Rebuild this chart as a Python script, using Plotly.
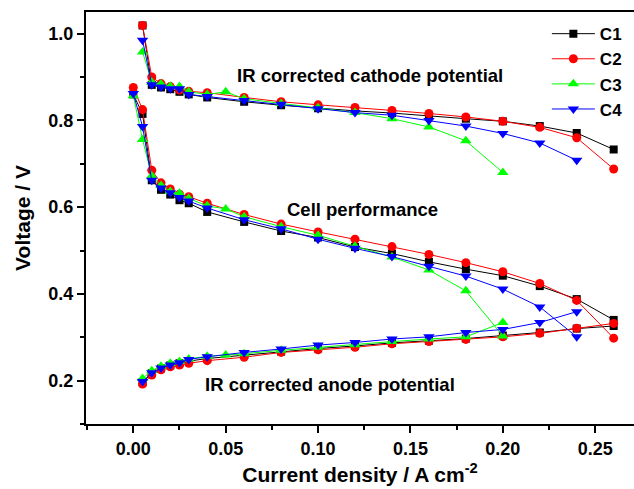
import plotly.graph_objects as go

# ---- data ----
x_cat = [0.005, 0.01, 0.015, 0.02, 0.025, 0.03, 0.04, 0.06, 0.08, 0.10, 0.12, 0.14, 0.16, 0.18, 0.20, 0.22, 0.24, 0.26]
x_cell = [0.0] + x_cat
x_c3_cat = [0.005, 0.01, 0.015, 0.02, 0.025, 0.03, 0.04, 0.05, 0.06, 0.08, 0.10, 0.12, 0.14, 0.16, 0.18, 0.20]
x_c3_cell = [0.0] + x_c3_cat

c1_cathode = [1.019, 0.882, 0.876, 0.872, 0.866, 0.860, 0.853, 0.843, 0.835, 0.828, 0.822, 0.817, 0.810, 0.804, 0.798, 0.787, 0.771, 0.733]
c2_cathode = [1.019, 0.900, 0.885, 0.878, 0.870, 0.867, 0.864, 0.853, 0.843, 0.836, 0.830, 0.823, 0.816, 0.808, 0.798, 0.784, 0.760, 0.688]
c3_cathode = [0.958, 0.888, 0.884, 0.879, 0.878, 0.866, 0.860, 0.866, 0.850, 0.839, 0.829, 0.818, 0.804, 0.785, 0.753, 0.680]
c4_cathode = [0.985, 0.882, 0.877, 0.873, 0.873, 0.860, 0.855, 0.846, 0.837, 0.827, 0.818, 0.812, 0.800, 0.787, 0.770, 0.748, 0.708]

c1_cell = [0.860, 0.815, 0.662, 0.640, 0.629, 0.616, 0.609, 0.589, 0.566, 0.545, 0.530, 0.508, 0.493, 0.474, 0.457, 0.442, 0.418, 0.388, 0.340]
c2_cell = [0.876, 0.825, 0.685, 0.656, 0.642, 0.630, 0.624, 0.609, 0.583, 0.561, 0.543, 0.526, 0.509, 0.491, 0.472, 0.451, 0.424, 0.385, 0.298]
c3_cell = [0.857, 0.756, 0.672, 0.650, 0.636, 0.632, 0.620, 0.603, 0.596, 0.578, 0.555, 0.535, 0.510, 0.485, 0.455, 0.407, 0.303]
c4_cell = [0.862, 0.786, 0.662, 0.644, 0.633, 0.622, 0.614, 0.598, 0.571, 0.550, 0.526, 0.505, 0.486, 0.464, 0.441, 0.411, 0.370, 0.301]

c1_anode = [0.196, 0.217, 0.228, 0.235, 0.240, 0.245, 0.251, 0.259, 0.267, 0.274, 0.280, 0.287, 0.292, 0.297, 0.304, 0.311, 0.320, 0.326]
c2_anode = [0.192, 0.213, 0.225, 0.232, 0.236, 0.240, 0.246, 0.254, 0.265, 0.271, 0.277, 0.285, 0.290, 0.295, 0.301, 0.309, 0.321, 0.332]
c3_anode = [0.205, 0.223, 0.233, 0.240, 0.244, 0.250, 0.256, 0.259, 0.262, 0.270, 0.277, 0.283, 0.290, 0.296, 0.301, 0.334]
c4_anode = [0.198, 0.218, 0.229, 0.236, 0.241, 0.249, 0.255, 0.265, 0.273, 0.282, 0.288, 0.296, 0.301, 0.311, 0.318, 0.334, 0.359]

names = ["C1", "C2", "C3", "C4"]
colors = ["#000000", "#FF0000", "#00FF00", "#0000FF"]
symbols = ["square", "circle", "triangle-up", "triangle-down"]
msizes = [8, 9, 10, 10]

series = [
    (x_cat, x_cell, x_cat, c1_cathode, c1_cell, c1_anode),
    (x_cat, x_cell, x_cat, c2_cathode, c2_cell, c2_anode),
    (x_c3_cat, x_c3_cell, x_c3_cat, c3_cathode, c3_cell, c3_anode),
    (x_cat[:-1], x_cell[:-1], x_cat[:-1], c4_cathode, c4_cell, c4_anode),
]

FONT = "Liberation Sans, Arial, sans-serif"

fig = go.Figure()
for i, (xa, xb, xc, ya, yb, yc) in enumerate(series):
    xs = list(xa[:len(ya)]) + [None] + list(xb[:len(yb)]) + [None] + list(xc[:len(yc)])
    ys = list(ya) + [None] + list(yb) + [None] + list(yc)
    fig.add_trace(go.Scatter(
        x=xs, y=ys, name=names[i], mode="lines+markers",
        line=dict(color=colors[i], width=1),
        marker=dict(symbol=symbols[i], size=msizes[i], color=colors[i], line=dict(width=0)),
        connectgaps=False,
    ))

ann_font = dict(family=FONT, size=18.5, color="black", weight="bold")
fig.add_annotation(x=0.1279, y=0.904, text="IR corrected cathode potential", showarrow=False, font=ann_font)
fig.add_annotation(x=0.1243, y=0.595, text="Cell performance", showarrow=False, font=ann_font)
fig.add_annotation(x=0.1065, y=0.190, text="IR corrected anode potential", showarrow=False, font=ann_font)

fig.update_layout(
    width=634, height=489,
    margin=dict(l=86, r=0, t=12, b=65),
    plot_bgcolor="white", paper_bgcolor="white",
    font=dict(family=FONT, color="black"),
    legend=dict(x=0.841, y=0.99, xanchor="left", yanchor="top", itemwidth=43,
                font=dict(family=FONT, size=17, weight="bold"),
                bgcolor="rgba(0,0,0,0)", tracegroupgap=0),
    xaxis=dict(
        range=[-0.0256, 0.271], showgrid=False, zeroline=False,
        showline=True, linewidth=2, linecolor="black", mirror=True,
        ticks="outside", ticklen=7, tickwidth=1.5, tickcolor="black",
        tick0=0, dtick=0.05, tickformat=".2f",
        minor=dict(ticks="outside", ticklen=4, tickwidth=1.5, tickcolor="black", dtick=0.025, tick0=0),
        tickfont=dict(family=FONT, size=18, weight="bold"),
        title=dict(text="Current density / A cm<sup>-2</sup>", standoff=10,
                   font=dict(family=FONT, size=21, weight="bold")),
    ),
    yaxis=dict(
        range=[0.1, 1.05], showgrid=False, zeroline=False,
        showline=True, linewidth=2, linecolor="black",
        ticks="outside", ticklen=7, tickwidth=1.5, tickcolor="black",
        tick0=0.2, dtick=0.2, tickformat=".1f",
        minor=dict(ticks="outside", ticklen=4, tickwidth=1.5, tickcolor="black", dtick=0.1, tick0=0.1),
        tickfont=dict(family=FONT, size=18, weight="bold"),
        title=dict(text="Voltage / V", standoff=12,
                   font=dict(family=FONT, size=21, weight="bold")),
    ),
)

fig.write_html("out.html")
